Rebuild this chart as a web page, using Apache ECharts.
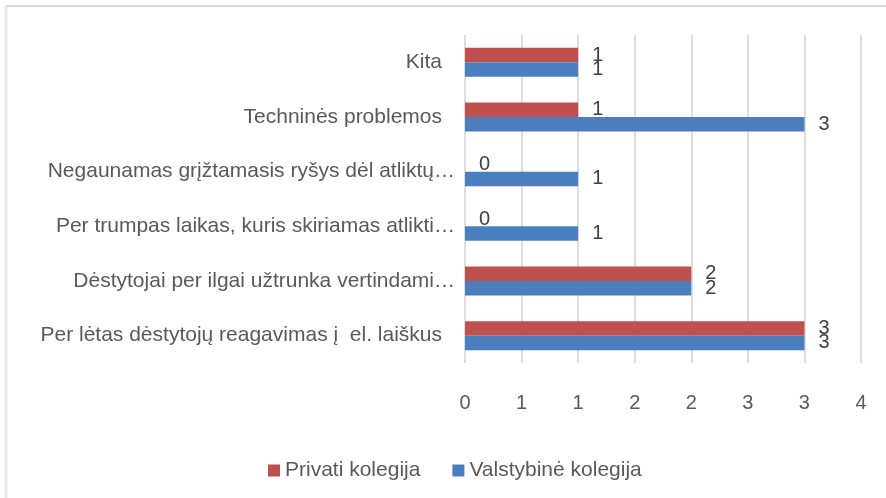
<!DOCTYPE html>
<html>
<head>
<meta charset="utf-8">
<script src="https://cdn.jsdelivr.net/npm/echarts@6/dist/echarts.min.js"></script>
<style>
  html, body { margin: 0; padding: 0; background: #fff; }
  #chart { width: 886px; height: 498px; }
</style>
</head>
<body>
<div id="chart"></div>
<script>
// categories bottom -> top (as ECharts lays a y category axis)
const categories = [
  'Per lėtas dėstytojų reagavimas į  el. laiškus',
  'Dėstytojai per ilgai užtrunka vertindami…',
  'Per trumpas laikas, kuris skiriamas atlikti…',
  'Negaunamas grįžtamasis ryšys dėl atliktų…',
  'Techninės problemos',
  'Kita'
];
const privati = [3, 2, 0, 0, 1, 1];
const valstybine = [3, 2, 1, 1, 3, 1];
const xTickLabels = ['0', '1', '1', '2', '2', '3', '3', '4'];

const FONT = '"Liberation Sans", Arial, sans-serif';
const GRAY = '#595959';

const chart = echarts.init(document.getElementById('chart'));

const labelStyle = {
  show: true,
  position: 'right',
  distance: 14,
  fontSize: 20,
  fontFamily: FONT,
  color: '#404040'
};

chart.setOption({
  animation: false,
  backgroundColor: '#fff',
  graphic: [
    { type: 'line', shape: { x1: 6, y1: 6, x2: 886, y2: 6 }, style: { stroke: '#d9d9d9', lineWidth: 2 } },
    { type: 'line', shape: { x1: 6, y1: 6, x2: 6, y2: 498 }, style: { stroke: '#ebebeb', lineWidth: 3 } }
  ],
  grid: { left: 465, right: 25, top: 35, bottom: 135, containLabel: false },
  legend: {
    data: ['Privati kolegija', 'Valstybinė kolegija'],
    left: 263,
    top: 455,
    icon: 'rect',
    itemWidth: 12,
    itemHeight: 12,
    itemGap: 32,
    textStyle: { fontSize: 21, fontFamily: FONT, color: GRAY }
  },
  xAxis: {
    type: 'value',
    min: 0,
    max: 3.5,
    interval: 0.5,
    axisLine: { show: false },
    axisTick: { show: false },
    splitLine: { show: true, lineStyle: { color: '#dedede', width: 2 } },
    axisLabel: {
      margin: 30,
      fontSize: 20,
      fontFamily: FONT,
      color: GRAY,
      formatter: (v, i) => xTickLabels[i]
    }
  },
  yAxis: {
    type: 'category',
    data: categories,
    axisLine: { show: false },
    axisTick: { show: false },
    axisLabel: {
      margin: 10,
      fontSize: 21,
      fontFamily: FONT,
      color: GRAY,
      formatter: v => v.endsWith('…') ? v : '{full|' + v + '}',
      rich: {
        full: { padding: [0, 13, 0, 0], fontSize: 21, fontFamily: FONT, color: GRAY }
      }
    }
  },
  series: [
    {
      name: 'Privati kolegija',
      type: 'bar',
      data: privati,
      barWidth: 14.5,
      barGap: '0%',
      itemStyle: { color: '#c0504d' },
      label: labelStyle
    },
    {
      name: 'Valstybinė kolegija',
      type: 'bar',
      data: valstybine,
      barWidth: 14.5,
      barGap: '0%',
      itemStyle: { color: '#4a7ebf' },
      label: labelStyle
    }
  ]
});
</script>
</body>
</html>
